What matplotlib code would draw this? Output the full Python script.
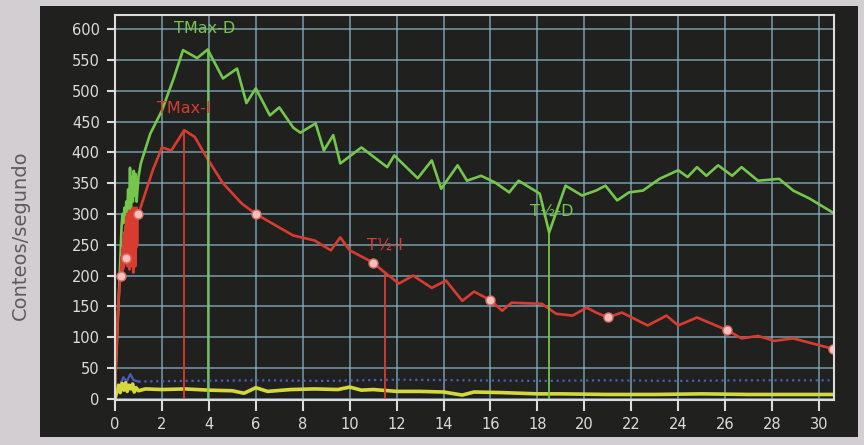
import numpy as np
import matplotlib
matplotlib.use("Agg")
import matplotlib.pyplot as plt
from matplotlib.patches import Rectangle

# Renogram data (minutes vs counts/second)
green_t = [0.0, 0.1, 0.2, 0.28, 0.32, 0.36, 0.40, 0.44, 0.48, 0.52, 0.56, 0.60, 0.64, 0.68,
           0.72, 0.76, 0.80, 0.84, 0.88, 0.92, 0.96, 1.0, 1.1, 1.5, 2.0, 2.5, 2.9, 3.5, 3.95,
           4.6, 5.2, 5.6, 6.0, 6.6, 7.0, 7.6, 7.9, 8.55, 8.9, 9.3, 9.6, 10.5, 11.6, 11.9, 12.9,
           13.5, 13.9, 14.6, 15.0, 15.6, 16.2, 16.8, 17.2, 18.1, 18.5, 19.2, 19.9, 20.5, 20.9,
           21.4, 21.9, 22.5, 23.2, 24.0, 24.4, 24.8, 25.2, 25.7, 26.3, 26.7, 27.4, 28.3, 28.9,
           29.6, 30.6]
green_v = [15, 110, 200, 280, 300, 285, 310, 290, 320, 300, 340, 305, 375, 310,
           360, 320, 370, 330, 365, 320, 340, 360, 382, 430, 468, 520, 566, 553, 567,
           520, 536, 480, 504, 460, 473, 440, 432, 447, 403, 428, 382, 408, 376, 395, 358,
           387, 341, 379, 354, 362, 351, 335, 354, 333, 270, 346, 330, 338, 346,
           322, 335, 338, 357, 371, 360, 376, 362, 379, 362, 376, 354, 357, 338,
           325, 302]

red_t = [0.0, 0.08, 0.15, 0.22, 0.25, 0.28, 0.30, 0.32, 0.34, 0.36, 0.38, 0.40, 0.42, 0.44,
         0.46, 0.48, 0.50, 0.52, 0.54, 0.56, 0.58, 0.60, 0.62, 0.64, 0.66, 0.68, 0.70, 0.72,
         0.74, 0.76, 0.78, 0.80, 0.82, 0.84, 0.86, 0.88, 0.90, 0.92, 0.94, 0.96,
         1.0, 1.6, 2.0, 2.4, 2.95, 3.4, 3.9, 4.6, 5.4, 6.0, 7.0, 7.6, 8.5, 9.2, 9.6, 10.0,
         11.0, 11.4, 12.1, 12.7, 13.5, 14.1, 14.8, 15.3, 16.0, 16.5, 16.9, 18.2, 18.8, 19.5,
         20.1, 20.5, 21.0, 21.6, 22.7, 23.5, 24.0, 24.8, 26.1, 26.7, 27.4, 28.1, 28.9, 30.6]
red_v = [20, 100, 160, 195, 200, 230, 205, 245, 210, 260, 215, 270, 225, 280,
         220, 295, 230, 300, 215, 290, 235, 305, 210, 295, 230, 305, 215, 300,
         240, 310, 205, 300, 230, 310, 215, 305, 245, 310, 250, 305,
         300, 370, 408, 403, 436, 425, 392, 350, 317, 300, 278, 265, 257, 241, 262, 241,
         221, 208, 187, 200, 180, 192, 159, 174, 160, 143, 156, 154, 138, 135,
         148, 140, 132, 140, 119, 135, 119, 132, 111, 98, 102, 94, 98, 81]

red_mark_t = [0.25, 0.45, 1.0, 6.0, 11.0, 16.0, 21.0, 26.1, 30.6]
red_mark_v = [200, 228, 300, 300, 221, 160, 132, 111, 81]

yellow_t = [0.0, 0.08, 0.15, 0.22, 0.3, 0.38, 0.45, 0.52, 0.6, 0.68, 0.75, 0.82, 0.9, 1.0,
            1.3, 2.0, 3.0, 4.0, 5.0, 5.5, 6.0, 6.5, 7.5, 8.5, 9.5, 10.0, 10.5, 11.0, 12.0,
            13.0, 14.0, 14.8, 15.3, 16.5, 18.0, 19.0, 21.0, 23.0, 25.0, 27.0, 29.0, 30.6]
yellow_v = [0, 12, 22, 10, 25, 14, 26, 12, 22, 16, 24, 11, 18, 13,
            16, 15, 16, 14, 13, 9, 18, 12, 15, 16, 15, 19, 14, 15, 12,
            12, 11, 6, 11, 10, 8, 8, 7, 7, 8, 7, 7, 7]

blue_t = [0.0, 0.2, 0.35, 0.5, 0.65, 0.8, 1.0, 3, 6, 9, 12, 15, 18, 21, 24, 27, 30.6]
blue_v = [5, 20, 35, 28, 40, 30, 28, 29, 30, 29, 31, 30, 29, 30, 29, 30, 30]

# time markers (minutes)
tmax_i, thalf_i = 2.95, 11.5
tmax_d, thalf_d = 3.95, 18.5

GREEN = '#74c64c'
RED = '#d83c30'
YELLOW = '#d4d83a'
BLUE = '#4a5cb8'
GRID = '#86b0c2'
DARK = '#20211f'
LIGHT = '#dcdcdc'

fig = plt.figure(figsize=(8.64, 4.45), dpi=100)
fig.patch.set_facecolor('#d3ced1')
fig.patches.append(Rectangle((0.0463, 0.018), 0.9468, 0.9685, transform=fig.transFigure,
                             facecolor=DARK, edgecolor='none', zorder=-5))

ax = fig.add_axes([0.1331, 0.1011, 0.8322, 0.8652])
ax.set_facecolor(DARK)
ax.set_xlim(0, 30.64)
ax.set_ylim(-2, 623)
ax.set_xticks(np.arange(0, 31, 2))
ax.set_yticks(np.arange(0, 601, 50))
ax.grid(True, color=GRID, lw=1.1, alpha=0.85)
ax.set_axisbelow(True)
for s in ax.spines.values():
    s.set_color(LIGHT)
    s.set_linewidth(1.5)
ax.tick_params(axis='both', colors=LIGHT, labelsize=10.5, width=1.5)
ax.tick_params(axis='x', length=8, pad=4)
ax.tick_params(axis='y', length=6, pad=5)

# background ROI (dotted) and yellow curve
ax.plot(blue_t[:7], blue_v[:7], color=BLUE, lw=1.6)
ax.plot(blue_t[6:], blue_v[6:], color=BLUE, lw=1.6, ls=':')
ax.plot(yellow_t, yellow_v, color=YELLOW, lw=2.6)

ax.plot(green_t, green_v, color=GREEN, lw=1.9)
ax.plot(red_t, red_v, color=RED, lw=1.9)
ax.plot(red_mark_t, red_mark_v, ls='none', marker='o', ms=6.5, mfc='#f2c2c0', mec='#e06a62', mew=1)

# vertical time lines
for x, t, v, c in [(tmax_i, red_t, red_v, RED), (thalf_i, red_t, red_v, RED),
                   (tmax_d, green_t, green_v, GREEN), (thalf_d, green_t, green_v, GREEN)]:
    ax.vlines(x, 0, np.interp(x, t, v), color=c, lw=1.3)

ax.text(tmax_d - 0.15, 601, 'TMax-D', color=GREEN, fontsize=11.5, ha='center', va='center')
ax.text(tmax_i, 471, 'TMax-I', color=RED, fontsize=11.5, ha='center', va='center')
ax.text(thalf_i, 249, 'T½-I', color=RED, fontsize=11.5, ha='center', va='center')
ax.text(thalf_d + 0.1, 304, 'T½-D', color=GREEN, fontsize=11.5, ha='center', va='center')

fig.text(0.024, 0.472, 'Conteos/segundo', rotation=90, color='#5c5c5e', fontsize=14,
         ha='center', va='center')

fig.savefig('out.png', dpi=100, facecolor=fig.get_facecolor())
